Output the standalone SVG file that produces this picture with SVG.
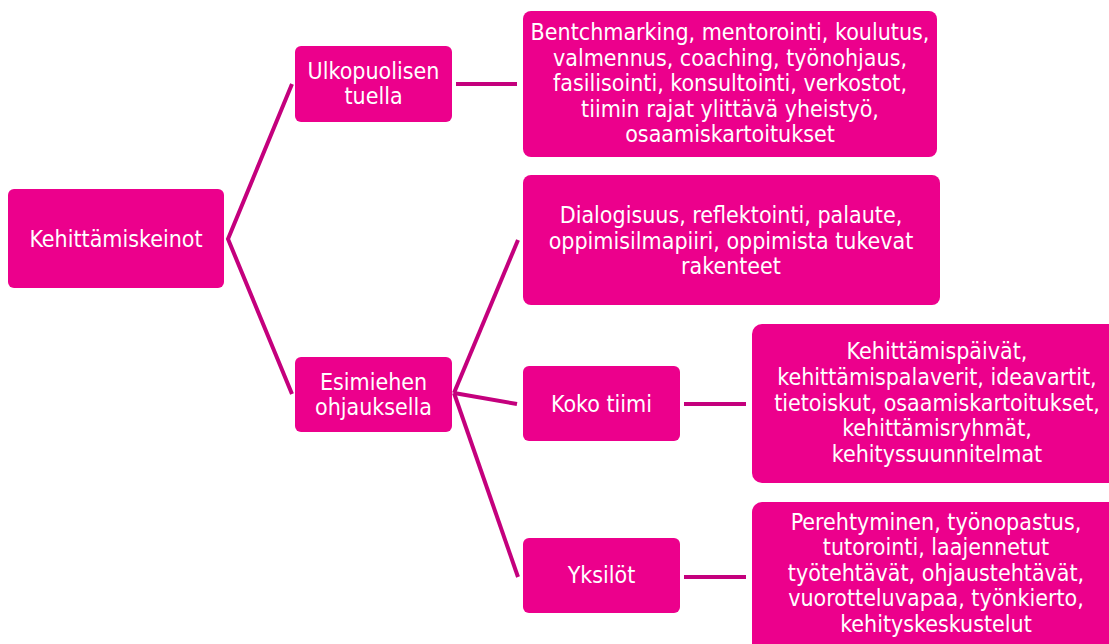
<svg xmlns="http://www.w3.org/2000/svg" width="1109" height="644" viewBox="0 0 1109 644">
<style>
.n{fill:#EC008C}
.t{fill:#fff;font-family:"DejaVu Sans Condensed","DejaVu Sans",sans-serif;font-size:23px;text-anchor:middle}
.c{stroke:#C4007D;stroke-width:4;fill:none}
</style>
<rect width="1109" height="644" fill="#fff"/>
<g id="connectors">
<polyline class="c" points="292,84 228,239 292,394"/>
<line class="c" x1="456" y1="84" x2="517" y2="84"/>
<line class="c" x1="518" y1="240" x2="454" y2="393"/>
<line class="c" x1="454" y1="393" x2="517" y2="404"/>
<line class="c" x1="454" y1="393" x2="518" y2="577"/>
<line class="c" x1="684" y1="404" x2="746" y2="404"/>
<line class="c" x1="684" y1="577" x2="746" y2="577"/>
</g>
<g id="root"><rect class="n" x="8" y="189" width="216" height="99" rx="6"/><text class="t" x="116" y="247">Kehittämiskeinot</text></g>
<g id="ulko"><rect class="n" x="295" y="46" width="157" height="76" rx="6"/><text class="t" x="373.5" y="79">Ulkopuolisen</text><text class="t" x="373.5" y="104">tuella</text></g>
<g id="ulko-list"><rect class="n" x="523" y="11" width="414" height="146" rx="8"/>
<text class="t" x="730" y="40">Bentchmarking, mentorointi, koulutus,</text>
<text class="t" x="730" y="65.5">valmennus, coaching, työnohjaus,</text>
<text class="t" x="730" y="91">fasilisointi, konsultointi, verkostot,</text>
<text class="t" x="730" y="116.5">tiimin rajat ylittävä yheistyö,</text>
<text class="t" x="730" y="142">osaamiskartoitukset</text></g>
<g id="esim"><rect class="n" x="295" y="357" width="157" height="75" rx="6"/><text class="t" x="373.5" y="390">Esimiehen</text><text class="t" x="373.5" y="415">ohjauksella</text></g>
<g id="dialog"><rect class="n" x="523" y="175" width="417" height="130" rx="8"/>
<text class="t" x="731" y="223">Dialogisuus, reflektointi, palaute,</text>
<text class="t" x="731" y="248.5">oppimisilmapiiri, oppimista tukevat</text>
<text class="t" x="731" y="274">rakenteet</text></g>
<g id="koko"><rect class="n" x="523" y="366" width="157" height="75" rx="6"/><text class="t" x="601.5" y="412">Koko tiimi</text></g>
<g id="koko-list"><rect class="n" x="752" y="324" width="372" height="159" rx="10"/>
<text class="t" x="937" y="359">Kehittämispäivät,</text>
<text class="t" x="937" y="385">kehittämispalaverit, ideavartit,</text>
<text class="t" x="937" y="410.5">tietoiskut, osaamiskartoitukset,</text>
<text class="t" x="937" y="436">kehittämisryhmät,</text>
<text class="t" x="937" y="462">kehityssuunnitelmat</text></g>
<g id="yks"><rect class="n" x="523" y="538" width="157" height="75" rx="6"/><text class="t" x="601.5" y="583">Yksilöt</text></g>
<g id="yks-list"><rect class="n" x="752" y="502" width="372" height="160" rx="10"/>
<text class="t" x="936" y="530">Perehtyminen, työnopastus,</text>
<text class="t" x="936" y="555">tutorointi, laajennetut</text>
<text class="t" x="936" y="580.5">työtehtävät, ohjaustehtävät,</text>
<text class="t" x="936" y="606">vuorotteluvapaa, työnkierto,</text>
<text class="t" x="936" y="632">kehityskeskustelut</text></g>
</svg>
